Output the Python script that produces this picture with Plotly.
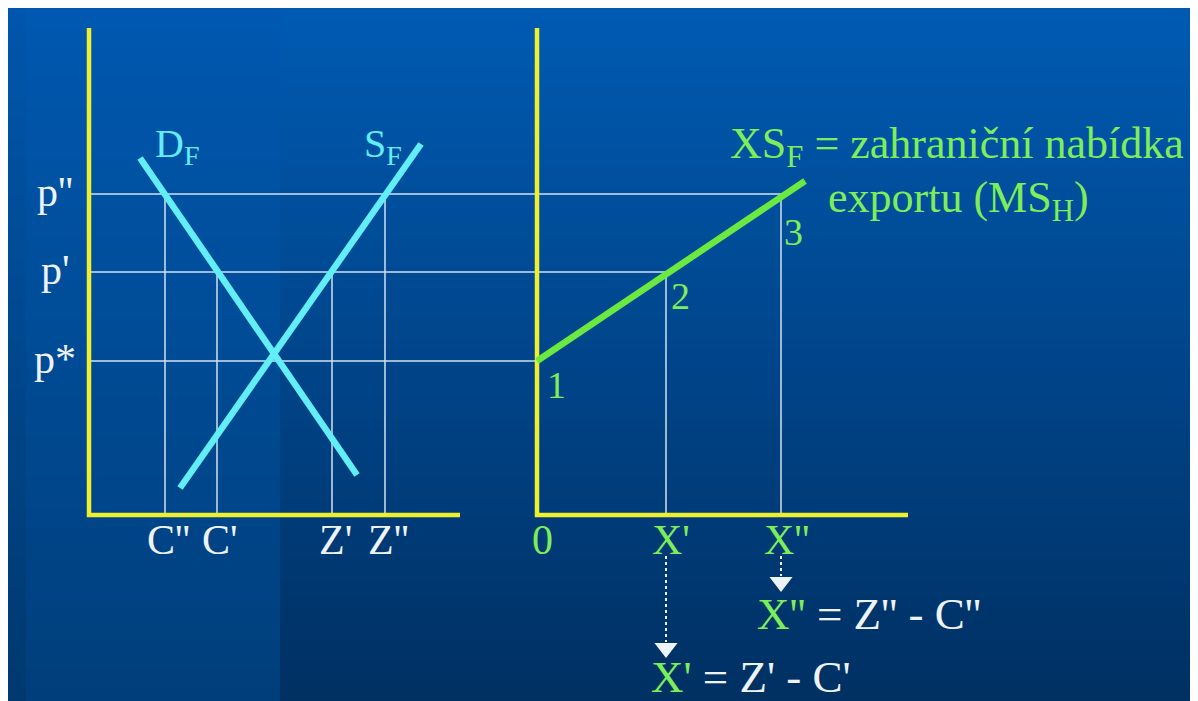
import plotly.graph_objects as go

# ---------------- data ----------------
price_labels = ["p*", "p'", "p''"]
price_values = [3.08, 4.86, 6.42]

demand_q = [1.02, 5.36]
demand_p = [7.14, 0.80]
supply_q = [1.82, 6.64]
supply_p = [0.54, 7.42]

cons_labels = ["C''", "C'"]
cons_q = [1.52, 2.56]
cons_p = [6.42, 4.86]
prod_labels = ["Z'", "Z''"]
prod_q = [4.86, 5.92]
prod_p = [4.86, 6.42]

xs_q = [0.0, 5.36]
xs_p = [3.08, 6.68]
point_labels = ["1", "2", "3"]
export_labels = ["0", "X'", "X''"]
export_q = [0.0, 2.58, 4.88]
export_p = [3.08, 4.86, 6.42]

axis_height = 9.74
axis_length = 7.42

# ---------------- layout constants ----------------
W, H = 1198, 701
PAGE = 8                          # page margin around the figure
UNIT = 50.0
X0_PX, Y0_PX = 89, 515            # origin of left panel (page pixels)
RIGHT = (537 - X0_PX) / UNIT      # origin of right panel in left-panel units


def ux(px):
    return (px - X0_PX) / UNIT


def uy(py):
    return (Y0_PX - py) / UNIT


FONT = "Liberation Serif"
YELLOW = "#EEF02E"
CYAN = "#62EEF6"
GREEN = "#6AEA40"
GREEN_T = "#7DEE5A"
WHITE = "#EEF3F8"
GUIDE = "#D2E2EE"

fig = go.Figure()

# guide lines
gx, gy = [], []
right_ends = [RIGHT + q for q in export_q]
for p, xe in zip(price_values, right_ends):
    gx += [0, xe, None]
    gy += [p, p, None]
for q, p in zip(cons_q + prod_q, cons_p + prod_p):
    gx += [q, q, None]
    gy += [0, p, None]
for q, p in zip(export_q[1:], export_p[1:]):
    gx += [RIGHT + q, RIGHT + q, None]
    gy += [0, p, None]
fig.add_trace(go.Scatter(x=gx, y=gy, mode="lines",
                         line=dict(color=GUIDE, width=1.5), hoverinfo="skip"))

# yellow axes
for off in (0, RIGHT):
    fig.add_trace(go.Scatter(x=[off, off, off + axis_length], y=[axis_height, 0, 0],
                             mode="lines", line=dict(color=YELLOW, width=4.5),
                             hoverinfo="skip"))

# demand & supply
fig.add_trace(go.Scatter(x=demand_q, y=demand_p, mode="lines",
                         line=dict(color=CYAN, width=6.5), hoverinfo="skip"))
fig.add_trace(go.Scatter(x=supply_q, y=supply_p, mode="lines",
                         line=dict(color=CYAN, width=6.5), hoverinfo="skip"))
# export supply
fig.add_trace(go.Scatter(x=[RIGHT + q for q in xs_q], y=xs_p, mode="lines",
                         line=dict(color=GREEN, width=6.5), hoverinfo="skip"))

# dotted arrows
arrow_specs = [(export_q[1], 556, 642), (export_q[2], 556, 576)]
for q, ys, ye in arrow_specs:
    fig.add_trace(go.Scatter(x=[RIGHT + q, RIGHT + q], y=[uy(ys), uy(ye)], mode="lines",
                             line=dict(color=WHITE, width=2, dash="dot"), hoverinfo="skip"))
    fig.add_trace(go.Scatter(x=[RIGHT + q], y=[uy(ye + 6)], mode="markers",
                             marker=dict(symbol="triangle-down", size=20, color=WHITE,
                                         line=dict(width=0)), hoverinfo="skip"))

ann = []


def text(x, y, s, color, size, xanchor="center", yanchor="middle"):
    ann.append(dict(x=x, y=y, xref="x", yref="y", text=s, showarrow=False,
                    xanchor=xanchor, yanchor=yanchor,
                    font=dict(family=FONT, size=size, color=color)))


# price labels
for lab, p in zip(price_labels, price_values):
    text(ux(55), p + 0.04, lab, WHITE, 42)
# quantity labels
for lab, q in zip(cons_labels + prod_labels, cons_q + prod_q):
    text(q + 0.06, uy(540), lab, WHITE, 42)
for lab, q in zip(export_labels, export_q):
    text(RIGHT + q + 0.1, uy(540), lab, GREEN_T, 42)
# point numbers
pt_offsets = [(556, 385), (680, 296), (793, 232)]
for lab, (px, py) in zip(point_labels, pt_offsets):
    text(ux(px), uy(py), lab, GREEN_T, 38)
# curve names
text(ux(153), uy(146), "D<sub>F</sub>", CYAN, 40, xanchor="left")
text(ux(362), uy(146), "S<sub>F</sub>", CYAN, 40, xanchor="left")
text(ux(728), uy(146), "XS<sub>F</sub> = zahraniční nabídka", GREEN_T, 44, xanchor="left")
text(ux(826), uy(200), "exportu (MS<sub>H</sub>)", GREEN_T, 44, xanchor="left")
# equations
g = lambda s: f'<span style="color:{GREEN_T}">{s}</span>'
text(ux(755), uy(614), g("X''") + " = Z'' - C''", WHITE, 45, xanchor="left")
text(ux(649), uy(677), g("X'") + " = Z' - C'", WHITE, 45, xanchor="left")

# background gradient (shapes in paper coordinates)
def lerp(c1, c2, t):
    return "#%02x%02x%02x" % tuple(int(round(a + (b - a) * t)) for a, b in zip(c1, c2))


shapes = []
N = 70
band_px = 280 - PAGE
cols = [
    (0, 18, (0, 86, 172), (0, 56, 110)),
    (18, band_px, (0, 88, 176), (0, 62, 122)),
    (band_px, W, (0, 90, 178), (0, 48, 98)),
]
for i in range(N):
    y0 = H * i / N
    y1 = H * (i + 1) / N + 2
    t = i / (N - 1)
    for xa, xb, c1, c2 in cols:
        shapes.append(dict(type="rect", xref="paper", yref="paper", layer="below",
                           x0=xa / W, x1=(xb + 2) / W, y0=1 - y1 / H, y1=1 - y0 / H,
                           fillcolor=lerp(c1, c2, t), line=dict(width=0)))

fig.update_layout(
    width=W, height=H, margin=dict(l=0, r=0, t=0, b=0),
    paper_bgcolor="#00468c", plot_bgcolor="rgba(0,0,0,0)",
    showlegend=False, shapes=shapes, annotations=ann,
    xaxis=dict(range=[ux(PAGE), ux(PAGE + W)], visible=False, fixedrange=True),
    yaxis=dict(range=[uy(PAGE + H), uy(PAGE)], visible=False, fixedrange=True),
)

fig.write_html("out.html", config={"displayModeBar": False})
